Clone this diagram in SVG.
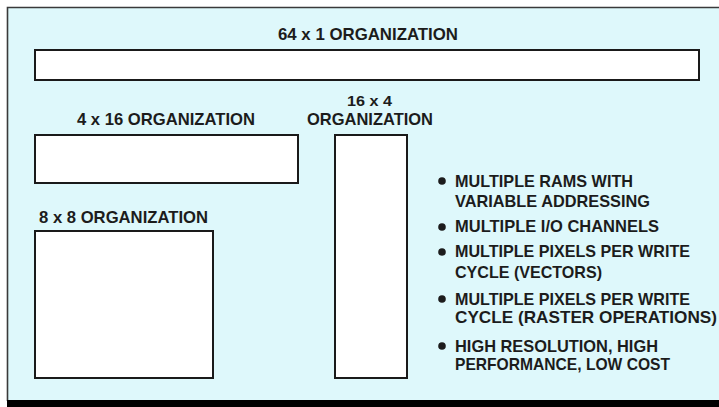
<svg xmlns="http://www.w3.org/2000/svg" width="719" height="407" viewBox="0 0 719 407">
  <style>
    .panel { fill: #def8fb; }
    .frame { fill: none; stroke: #3a3a3a; stroke-width: 1.6; }
    .block { fill: #ffffff; stroke: #1a1a1a; stroke-width: 2; }
    .lbl { font-family: "Liberation Sans", Arial, sans-serif; font-weight: bold; font-size: 17px; fill: #1c1c1c; }
    .lbl-s { font-size: 15px; }
    .dot { fill: #1c1c1c; }
  </style>

  <!-- background panel -->
  <rect x="0" y="0" width="719" height="407" fill="#ffffff"/>
  <rect class="panel" x="7" y="7" width="712" height="394"/>
  <path class="frame" d="M719 7.5 H7.5 V401"/>
  <rect x="7" y="400" width="712" height="7" fill="#000000"/>

  <!-- 64 x 1 organization -->
  <g id="org-64x1">
    <rect class="block" x="35" y="50" width="664" height="30"/>
    <text class="lbl" x="278" y="40" textLength="180" lengthAdjust="spacingAndGlyphs">64 x 1 ORGANIZATION</text>
  </g>

  <!-- 4 x 16 organization -->
  <g id="org-4x16">
    <rect class="block" x="35" y="135" width="263" height="48"/>
    <text class="lbl" x="77" y="125" textLength="178" lengthAdjust="spacingAndGlyphs">4 x 16 ORGANIZATION</text>
  </g>

  <!-- 16 x 4 organization -->
  <g id="org-16x4">
    <rect class="block" x="335" y="135" width="72" height="243"/>
    <text class="lbl lbl-s" x="347" y="106" textLength="45" lengthAdjust="spacingAndGlyphs">16 x 4</text>
    <text class="lbl" x="307" y="125" textLength="126" lengthAdjust="spacingAndGlyphs">ORGANIZATION</text>
  </g>

  <!-- 8 x 8 organization -->
  <g id="org-8x8">
    <rect class="block" x="35" y="231" width="178" height="147"/>
    <text class="lbl" x="39" y="223" textLength="169" lengthAdjust="spacingAndGlyphs">8 x 8 ORGANIZATION</text>
  </g>

  <!-- feature list -->
  <g id="features">
    <circle class="dot" cx="442" cy="181" r="3.8"/>
    <text class="lbl" x="455" y="187" textLength="178" lengthAdjust="spacingAndGlyphs">MULTIPLE RAMS WITH</text>
    <text class="lbl" x="455" y="207" textLength="195" lengthAdjust="spacingAndGlyphs">VARIABLE ADDRESSING</text>

    <circle class="dot" cx="442" cy="227" r="3.8"/>
    <text class="lbl" x="455" y="232" textLength="204" lengthAdjust="spacingAndGlyphs">MULTIPLE I/O CHANNELS</text>

    <circle class="dot" cx="442" cy="252" r="3.8"/>
    <text class="lbl" x="455" y="257" textLength="235" lengthAdjust="spacingAndGlyphs">MULTIPLE PIXELS PER WRITE</text>
    <text class="lbl" x="455" y="278" textLength="147" lengthAdjust="spacingAndGlyphs">CYCLE (VECTORS)</text>

    <circle class="dot" cx="442" cy="299" r="3.8"/>
    <text class="lbl" x="455" y="305" textLength="235" lengthAdjust="spacingAndGlyphs">MULTIPLE PIXELS PER WRITE</text>
    <text class="lbl" x="455" y="323" textLength="262" lengthAdjust="spacingAndGlyphs">CYCLE (RASTER OPERATIONS)</text>

    <circle class="dot" cx="442" cy="346" r="3.8"/>
    <text class="lbl" x="455" y="352" textLength="203" lengthAdjust="spacingAndGlyphs">HIGH RESOLUTION, HIGH</text>
    <text class="lbl" x="455" y="370" textLength="215" lengthAdjust="spacingAndGlyphs">PERFORMANCE, LOW COST</text>
  </g>
</svg>
